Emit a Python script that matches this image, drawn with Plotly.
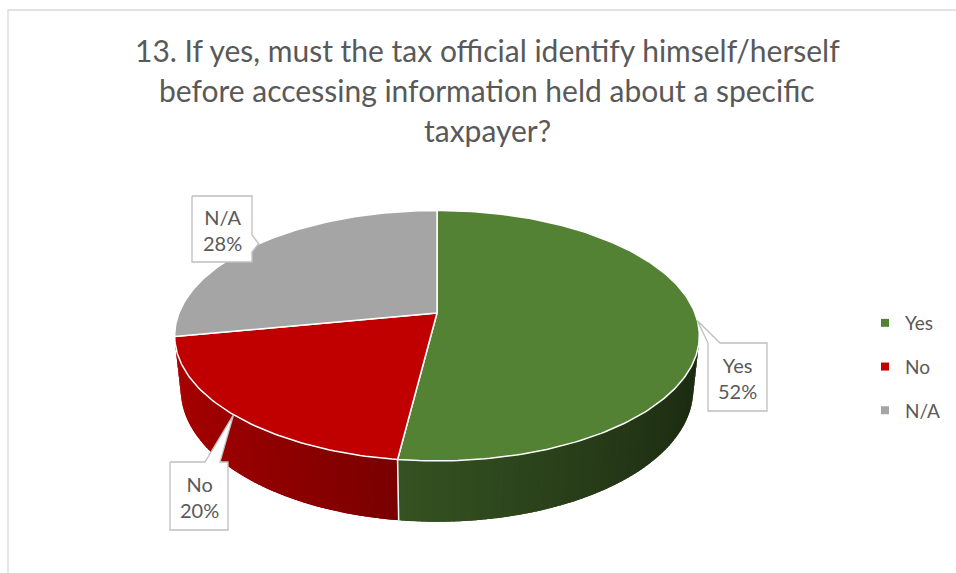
import numpy as np
import plotly.graph_objects as go

# ---- data ----
labels = ["Yes", "No", "N/A"]
values = [52, 20, 28]
colors = ["#548235", "#C00000", "#A5A5A5"]

title_lines = [
    "13. If yes, must the tax official identify himself/herself",
    "before accessing information held about a specific",
    "taxpayer?",
]

# ---- 3D pie geometry (screen units are pixels) ----
W, H = 956, 573
CX, CY = 437.0, 313.0      # screen position of the pie centre
K = 258.0                  # pixels per unit radius
D = 4.88                   # camera distance (units of radius)
TILT = np.radians(28)      # elevation of the viewpoint
DEPTH = 0.24               # thickness of the pie (units of radius)
TEXT = "#595959"
FONT = "Lato"


def project(theta_deg, z):
    """Project a rim point (clockwise angle from 12 o'clock, height z)."""
    t = np.radians(theta_deg)
    x, y = np.sin(t), np.cos(t)
    v = y * np.sin(TILT) + z * np.cos(TILT)
    w = y * np.cos(TILT) - z * np.sin(TILT)
    s = D / (D + w)
    return CX + K * x * s, CY - K * v * s


def shade(hex_color, f):
    r, g, b = (int(hex_color[i:i + 2], 16) for i in (1, 3, 5))
    return "rgb(%d,%d,%d)" % (round(r * f), round(g * f), round(b * f))


def wall_factor(theta_deg):
    # light from the left: walls facing left are brighter
    return 0.6 - 0.28 * np.sin(np.radians(theta_deg))


total = float(sum(values))
bounds = np.concatenate([[0.0], np.cumsum(values) / total * 360.0])
starts, ends = bounds[:-1], bounds[1:]

# a side face is visible where it faces the camera
cos_limit = -1.0 / (D * np.cos(TILT))
vis_lo = np.degrees(np.arccos(cos_limit))          # ~103 deg
vis_hi = 360.0 - vis_lo                            # ~257 deg

fig = go.Figure()

# ---- side walls: thin shaded segments, drawn back to front ----
STEP, OVERLAP = 1.0, 0.6
quads = []
for i in range(len(values)):
    lo, hi = max(starts[i], vis_lo - 2), min(ends[i], vis_hi + 2)
    if hi <= lo:
        continue
    n = int(np.ceil((hi - lo) / STEP))
    edges = np.linspace(lo, hi, n + 1)
    for t0, t1 in zip(edges[:-1], edges[1:]):
        tm = 0.5 * (t0 + t1)
        # overlap neighbours slightly (within the wall) to hide joins
        a0 = max(lo, t0 - OVERLAP)
        a1 = min(hi, t1 + OVERLAP)
        quads.append((np.cos(np.radians(tm)), i, a0, a1,
                      shade(colors[i], wall_factor(tm))))

quads.sort(key=lambda q: -q[0])
for _, i, t0, t1, col in quads:
    xa, ya = project(t0, 0)
    xb, yb = project(t1, 0)
    xc, yc = project(t1, -DEPTH)
    xd, yd = project(t0, -DEPTH)
    fig.add_trace(go.Scatter(
        x=[xa, xb, xc, xd, xa], y=[ya, yb, yc, yd, ya],
        mode="lines", fill="toself", fillcolor=col,
        line=dict(color=col, width=0),
        hoverinfo="skip", showlegend=False))

# white seams between wall segments that face the viewer
for b in bounds:
    if vis_lo < b < vis_hi:
        x0, y0 = project(b, 0)
        x1, y1 = project(b, -DEPTH)
        fig.add_trace(go.Scatter(
            x=[x0, x1], y=[y0, y1], mode="lines",
            line=dict(color="white", width=1.5),
            hoverinfo="skip", showlegend=False))

# ---- top faces ----
for i in range(len(values)):
    arc = np.linspace(starts[i], ends[i], int(np.ceil(ends[i] - starts[i])) + 1)
    pts = [project(t, 0) for t in arc]
    xs = [CX] + [p[0] for p in pts] + [CX]
    ys = [CY] + [p[1] for p in pts] + [CY]
    fig.add_trace(go.Scatter(
        x=xs, y=ys, mode="lines", fill="toself", fillcolor=colors[i],
        line=dict(color="white", width=1.5),
        name=labels[i], hoverinfo="name", showlegend=False))

# ---- callout labels ----
callouts = {
    "Yes": dict(box=(708, 343, 767, 411), side="top", base=(708, 720)),
    "No": dict(box=(170, 462, 228, 530), side="top", base=(205, 220)),
    "N/A": dict(box=(192, 196, 252, 262), side="right", base=(235, 252)),
}

for i, lab in enumerate(labels):
    c = callouts[lab]
    x0, y0, x1, y1 = c["box"]
    a, b = c["base"]
    tx, ty = project(0.5 * (starts[i] + ends[i]), 0)
    if c["side"] == "top":
        px = [x0, a, tx, b, x1, x1, x0, x0]
        py = [y0, y0, ty, y0, y0, y1, y1, y0]
    else:
        px = [x0, x1, x1, tx, x1, x1, x0, x0]
        py = [y0, y0, a, ty, b, y1, y1, y0]
    fig.add_trace(go.Scatter(
        x=px, y=py, mode="lines", fill="toself", fillcolor="white",
        line=dict(color="#BFBFBF", width=1.3),
        hoverinfo="skip", showlegend=False))
    fig.add_annotation(
        x=0.5 * (x0 + x1), y=0.5 * (y0 + y1) + 1,
        text="%s<br>%d%%" % (lab, values[i]), showarrow=False,
        font=dict(family=FONT, size=20, color=TEXT),
        xanchor="center", yanchor="middle")

# ---- legend entries ----
for i, lab in enumerate(labels):
    fig.add_trace(go.Scatter(
        x=[None], y=[None], mode="markers", name=lab, legendgroup=lab,
        marker=dict(symbol="square", size=8, color=colors[i])))

# ---- title ----
for j, line in enumerate(title_lines):
    fig.add_annotation(
        x=487, y=50 + 40 * j, text=line, showarrow=False,
        font=dict(family=FONT, size=30, color=TEXT),
        xanchor="center", yanchor="middle")

# chart area border (left and top edges fall inside the canvas)
fig.add_shape(type="rect", x0=8, y0=10, x1=W + 10, y1=H + 10,
              line=dict(color="#D9D9D9", width=1.3), fillcolor="rgba(0,0,0,0)",
              layer="below")

fig.update_layout(
    width=W, height=H, autosize=False,
    margin=dict(l=0, r=0, t=0, b=0),
    paper_bgcolor="white", plot_bgcolor="white",
    xaxis=dict(range=[0, W], visible=False, fixedrange=True),
    yaxis=dict(range=[H, 0], visible=False, fixedrange=True),
    showlegend=True,
    legend=dict(x=865 / W, y=1 - 304 / H, xanchor="left", yanchor="top",
                font=dict(family=FONT, size=19, color=TEXT),
                tracegroupgap=16, bgcolor="rgba(0,0,0,0)"),
    hovermode="closest",
)

fig.write_html("out.html")
